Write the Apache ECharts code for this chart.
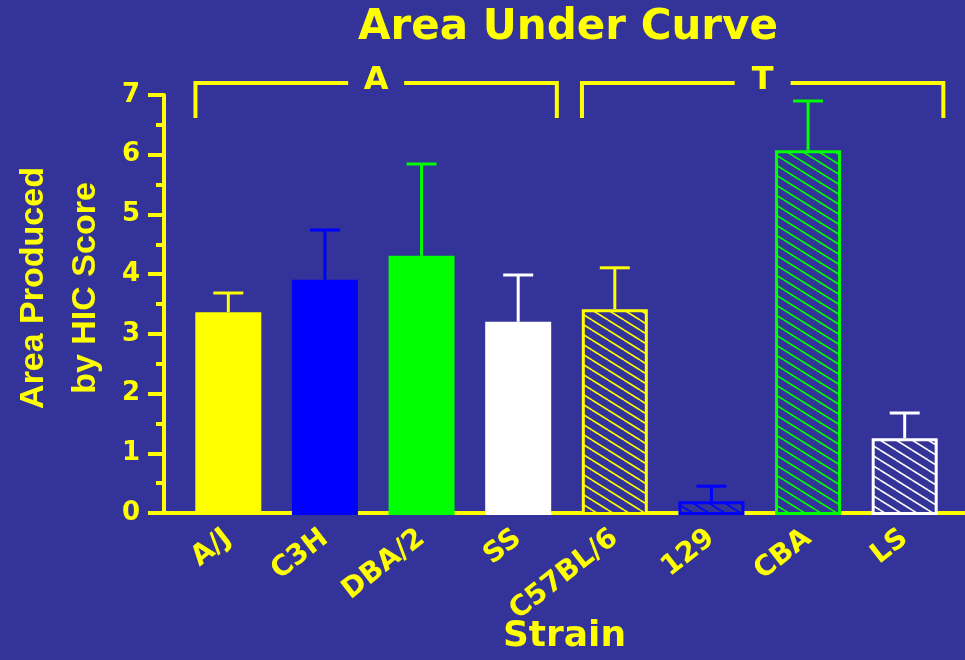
<!DOCTYPE html>
<html>
<head>
<meta charset="utf-8">
<script src="https://cdn.jsdelivr.net/npm/echarts@6/dist/echarts.min.js"></script>
<style>
  html, body { margin: 0; padding: 0; background: #333399; }
  #main { width: 965px; height: 660px; }
</style>
</head>
<body>
<div id="main"></div>
<script>
// values
var strains = ['A/J', 'C3H', 'DBA/2', 'SS', 'C57BL/6', '129', 'CBA', 'LS'];
var meanArea = [3.38, 3.92, 4.32, 3.22, 3.43, 0.23, 6.08, 1.28];
var semArea = [0.32, 0.83, 1.53, 0.78, 0.69, 0.25, 0.82, 0.42];
var hatched = [false, false, false, false, true, true, true, true];
var groupNames = ['A', 'T'];
var groupFirst = [0, 4];
var groupLast = [3, 7];
var yTicks = [0, 1, 2, 3, 4, 5, 6, 7];

var BG = '#333399';
var YEL = '#ffff00';
var palette = ['#ffff00', '#0000ff', '#00ff00', '#ffffff'];
var FONT = 'DejaVu Sans';

var chart = echarts.init(document.getElementById('main'), null, {renderer: 'canvas'});

function hatchPattern(col) {
    var c = document.createElement('canvas');
    c.width = 16;
    c.height = 10;
    var ctx = c.getContext('2d');
    ctx.fillStyle = BG;
    ctx.fillRect(0, 0, 16, 10);
    ctx.strokeStyle = col;
    ctx.lineWidth = 1.6;
    for (var k = -1; k <= 1; k++) {
        ctx.beginPath();
        ctx.moveTo(0, k * 10);
        ctx.lineTo(16, 10 + k * 10);
        ctx.stroke();
    }
    return {image: c, repeat: 'repeat'};
}

var barData = meanArea.map(function (v, i) {
    var col = palette[i % 4];
    if (hatched[i]) {
        return {value: v, itemStyle: {color: hatchPattern(col), borderColor: col, borderWidth: 3}};
    }
    return {value: v, itemStyle: {color: col}};
});

var errData = meanArea.map(function (v, i) {
    return [i, v, v + semArea[i]];
});

chart.setOption({
    backgroundColor: BG,
    animation: false,
    grid: [
        {left: 180, right: 12, top: 95, bottom: 145},
        {left: 164, right: 0, top: 95, bottom: 145}
    ],
    xAxis: [{
        type: 'category',
        gridIndex: 0,
        data: strains,
        axisLine: {show: false},
        axisTick: {show: false},
        axisLabel: {
            rotate: 38, margin: 20, interval: 0,
            color: YEL, fontFamily: FONT, fontWeight: 'bold', fontSize: 28
        }
    }, {
        type: 'value',
        gridIndex: 1,
        min: 0, max: 1,
        axisLine: {lineStyle: {color: YEL, width: 4}},
        axisTick: {show: false},
        axisLabel: {show: false},
        splitLine: {show: false},
        name: 'Strain',
        nameLocation: 'middle',
        nameGap: 106,
        nameTextStyle: {color: YEL, fontFamily: FONT, fontWeight: 'bold', fontSize: 36}
    }],
    yAxis: [{
        type: 'value',
        gridIndex: 0,
        min: 0, max: 7,
        show: false
    }, {
        type: 'value',
        gridIndex: 1,
        min: yTicks[0], max: yTicks[yTicks.length - 1], interval: 1,
        axisLine: {show: true, lineStyle: {color: YEL, width: 4}},
        axisTick: {show: true, length: 16, lineStyle: {color: YEL, width: 4}},
        minorTick: {show: true, splitNumber: 2, length: 8, lineStyle: {color: YEL, width: 4}},
        axisLabel: {margin: 24, color: YEL, fontFamily: FONT, fontWeight: 'bold', fontSize: 26},
        splitLine: {show: false}
    }],
    series: [{
        type: 'custom',
        xAxisIndex: 0,
        yAxisIndex: 0,
        data: errData,
        z: 1,
        renderItem: function (params, api) {
            var i = api.value(0);
            var lo = api.coord([i, api.value(1)]);
            var hi = api.coord([i, api.value(2)]);
            var col = palette[i % 4];
            var st = {stroke: col, lineWidth: 3};
            return {
                type: 'group',
                children: [
                    {type: 'line', shape: {x1: lo[0], y1: lo[1], x2: hi[0], y2: hi[1]}, style: st},
                    {type: 'line', shape: {x1: hi[0] - 15, y1: hi[1], x2: hi[0] + 15, y2: hi[1]}, style: st}
                ]
            };
        }
    }, {
        type: 'bar',
        xAxisIndex: 0,
        yAxisIndex: 0,
        barWidth: 66,
        z: 2,
        data: barData
    }]
});

// title, y title and the A / T brackets
var gfx = [{
    type: 'text', x: 568, y: 28,
    style: {text: 'Area Under Curve', fill: YEL, font: 'bold 42px "DejaVu Sans"', align: 'center', verticalAlign: 'middle'}
}, {
    type: 'text', x: 60, y: 288, rotation: Math.PI / 2,
    style: {text: 'Area Produced\nby HIC Score', fill: YEL, font: 'bold 34px "Liberation Sans"',
        lineHeight: 52, align: 'center', verticalAlign: 'middle'}
}];

var half = chart.convertToPixel({xAxisIndex: 0}, strains[1]) - chart.convertToPixel({xAxisIndex: 0}, strains[0]);
groupNames.forEach(function (g, k) {
    var x0 = chart.convertToPixel({xAxisIndex: 0}, strains[groupFirst[k]]) - half * 0.34;
    var x1 = chart.convertToPixel({xAxisIndex: 0}, strains[groupLast[k]]) + half * 0.4;
    var mid = (x0 + x1) / 2;
    var yTop = 83, yEnd = 118, gap = 28;
    var st = {stroke: YEL, lineWidth: 4, fill: null};
    gfx.push({type: 'polyline', shape: {points: [[x0, yEnd], [x0, yTop], [mid - gap, yTop]]}, style: st});
    gfx.push({type: 'polyline', shape: {points: [[mid + gap, yTop], [x1, yTop], [x1, yEnd]]}, style: st});
    gfx.push({type: 'text', x: mid, y: 81,
        style: {text: g, fill: YEL, font: 'bold 32px "DejaVu Sans"', align: 'center', verticalAlign: 'middle'}});
});
chart.setOption({graphic: gfx});
</script>
</body>
</html>
